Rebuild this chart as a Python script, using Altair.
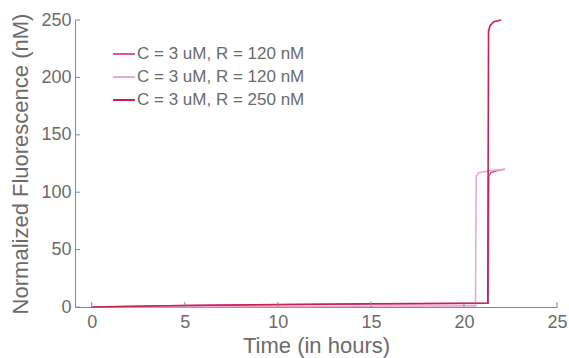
import altair as alt
import pandas as pd

# Fluorescence traces (time in hours, normalized fluorescence in nM)
t_a = [0, 5, 10, 15, 20, 21.3, 21.33, 21.45, 21.8, 22.2]
v_a = [0, 1.2, 2.0, 2.6, 3.0, 3.2, 114, 117, 119, 120]

t_b = [0, 10, 20, 20.62, 20.66, 20.8, 21.5, 22.2]
v_b = [0, 0.5, 1.0, 1.0, 114, 117, 119, 120]

t_c = [0, 5, 10, 15, 20, 21.28, 21.32, 21.4, 21.6, 22.0]
v_c = [0, 1.3, 2.2, 2.8, 3.3, 3.5, 240, 245, 248.5, 250]

series_keys = ["a", "b", "c"]
series_labels = ["C = 3 uM, R = 120 nM", "C = 3 uM, R = 120 nM", "C = 3 uM, R = 250 nM"]
series_colors = ["#d9559b", "#e9aad2", "#cc1f4c"]

x_ticks = [0, 5, 10, 15, 20, 25]
y_ticks = [0, 50, 100, 150, 200, 250]

rows = []
for key, ts, vs in zip(series_keys, [t_a, t_b, t_c], [v_a, v_b, v_c]):
    for i, (t, v) in enumerate(zip(ts, vs)):
        rows.append({"series": key, "order": i, "t": t, "v": v})
df = pd.DataFrame(rows)

W, H = 482, 287
FONT = "Liberation Sans"
GREY = "#6b6b6b"

x_scale = alt.Scale(domain=[-0.9, 25], nice=False, zero=False)
y_scale = alt.Scale(domain=[0, 250], nice=False)

label_map = "{" + ",".join(f"'{k}':'{l}'" for k, l in zip(series_keys, series_labels)) + "}"

lines = alt.Chart(df).mark_line(strokeWidth=1.6, interpolate="linear").encode(
    x=alt.X("t:Q", scale=x_scale,
            axis=alt.Axis(values=x_ticks, title="Time (in hours)", tickSize=0,
                          labelPadding=6, titlePadding=4, grid=False, labelFlush=False)),
    y=alt.Y("v:Q", scale=y_scale,
            axis=alt.Axis(values=y_ticks, title="Normalized Fluorescence (nM)", tickSize=0,
                          labelPadding=4, titlePadding=8, grid=False, labelFlush=False)),
    color=alt.Color("series:N",
                    scale=alt.Scale(domain=series_keys, range=series_colors),
                    legend=alt.Legend(orient="none", legendX=37, legendY=22, title=None,
                                      symbolType="stroke", symbolSize=480, symbolStrokeWidth=2,
                                      labelExpr=f"{label_map}[datum.value]",
                                      labelFontSize=17, labelColor=GREY, labelFont=FONT,
                                      labelLimit=0, rowPadding=3, labelOffset=1)),
    order="order:Q",
    detail="series:N",
)

# Inward-pointing tick marks in the MATLAB style
xt = pd.DataFrame({"t": x_ticks})
yt = pd.DataFrame({"v": y_ticks})
x_tick_marks = alt.Chart(xt).mark_rule(color="#888", strokeWidth=1).encode(
    x=alt.X("t:Q", scale=x_scale), y=alt.value(H), y2=alt.value(H - 5))
y_tick_marks = alt.Chart(yt).mark_rule(color="#888", strokeWidth=1).encode(
    y=alt.Y("v:Q", scale=y_scale), x=alt.value(0), x2=alt.value(5))

chart = alt.layer(lines, x_tick_marks, y_tick_marks).properties(
    width=W, height=H,
    background="white",
    autosize=alt.AutoSizeParams(type="none"),
    padding={"left": 75, "top": 20, "right": 12, "bottom": 51},
).configure_view(stroke=None).configure_axis(
    domainColor="#888", domainWidth=1,
    labelFont=FONT, labelFontSize=18, labelColor=GREY,
    titleFont=FONT, titleFontSize=22, titleColor=GREY, titleFontWeight="normal",
)

chart.save("out.html", embed_options={"renderer": "svg", "actions": False})
